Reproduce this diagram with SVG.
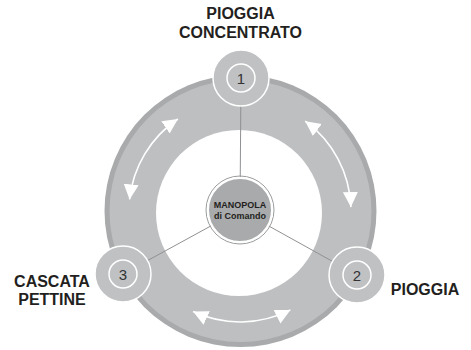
<svg xmlns="http://www.w3.org/2000/svg" width="471" height="350" viewBox="0 0 471 350">
<style>
.lbl{font-family:"Liberation Sans",Arial,sans-serif;font-weight:bold;font-size:16px;fill:#231f20;text-anchor:middle}
.num{font-family:"Liberation Sans",Arial,sans-serif;font-size:15px;fill:#333;text-anchor:middle}
.knobt{font-family:"Liberation Sans",Arial,sans-serif;font-weight:bold;font-size:9px;fill:#231f20;text-anchor:middle}
.node{fill:#bfc1c3;stroke:#fff;stroke-width:1.5}
.inner{fill:none;stroke:#fff;stroke-width:1.5}
.conn{stroke:#8f9193;stroke-width:1;fill:none}
.arr{stroke:#fff;stroke-width:1.6;fill:none;marker-start:url(#ah);marker-end:url(#ah)}
</style>
<defs>
<marker id="ah" markerUnits="userSpaceOnUse" markerWidth="16" markerHeight="16" refX="15" refY="7.5" orient="auto-start-reverse">
<path d="M0,0 L15,7.5 L0,15 z" fill="#fff"/>
</marker>
</defs>
<rect width="471" height="350" fill="#fff"/>
<g id="ring">
<circle cx="240.5" cy="211" r="136" fill="#a8aaac"/>
<circle cx="240.5" cy="211" r="131" fill="#bdbfc1"/>
<circle cx="239" cy="213" r="83" fill="#fff"/>
</g>
<g id="connectors">
<line class="conn" x1="240" y1="210" x2="241" y2="78"/>
<line class="conn" x1="240" y1="210" x2="357" y2="275"/>
<line class="conn" x1="240" y1="210" x2="123" y2="274"/>
<path class="arr" d="M129.6,199.4 A111,111 0 0 1 177.9,119.0"/>
<path class="arr" d="M305.2,121.2 A111,111 0 0 1 350.9,207.1"/>
<path class="arr" d="M193.1,311.6 A111,111 0 0 0 290.4,309.9"/>
</g>
<g id="knob">
<circle cx="240" cy="210" r="34" fill="none" stroke="#9a9c9e" stroke-width="1"/>
<circle cx="240" cy="210" r="32" fill="#a8aaac" stroke="#fff" stroke-width="2"/>
<text class="knobt" x="240" y="208">MANOPOLA</text>
<text class="knobt" x="240" y="218.5">di Comando</text>
</g>
<g id="node1">
<circle class="node" cx="241" cy="78" r="28"/>
<circle class="inner" cx="241" cy="78" r="14"/>
<text class="num" x="241" y="83.5">1</text>
<text class="lbl" x="240.5" y="19">PIOGGIA</text>
<text class="lbl" x="240.5" y="38">CONCENTRATO</text>
</g>
<g id="node2">
<circle class="node" cx="357" cy="275" r="28"/>
<circle class="inner" cx="357" cy="275" r="14"/>
<text class="num" x="357" y="280.5">2</text>
<text class="lbl" x="425" y="295">PIOGGIA</text>
</g>
<g id="node3">
<circle class="node" cx="123" cy="274" r="28"/>
<circle class="inner" cx="123" cy="274" r="14"/>
<text class="num" x="123" y="279.5">3</text>
<text class="lbl" x="52" y="287">CASCATA</text>
<text class="lbl" x="52" y="305">PETTINE</text>
</g>
</svg>
